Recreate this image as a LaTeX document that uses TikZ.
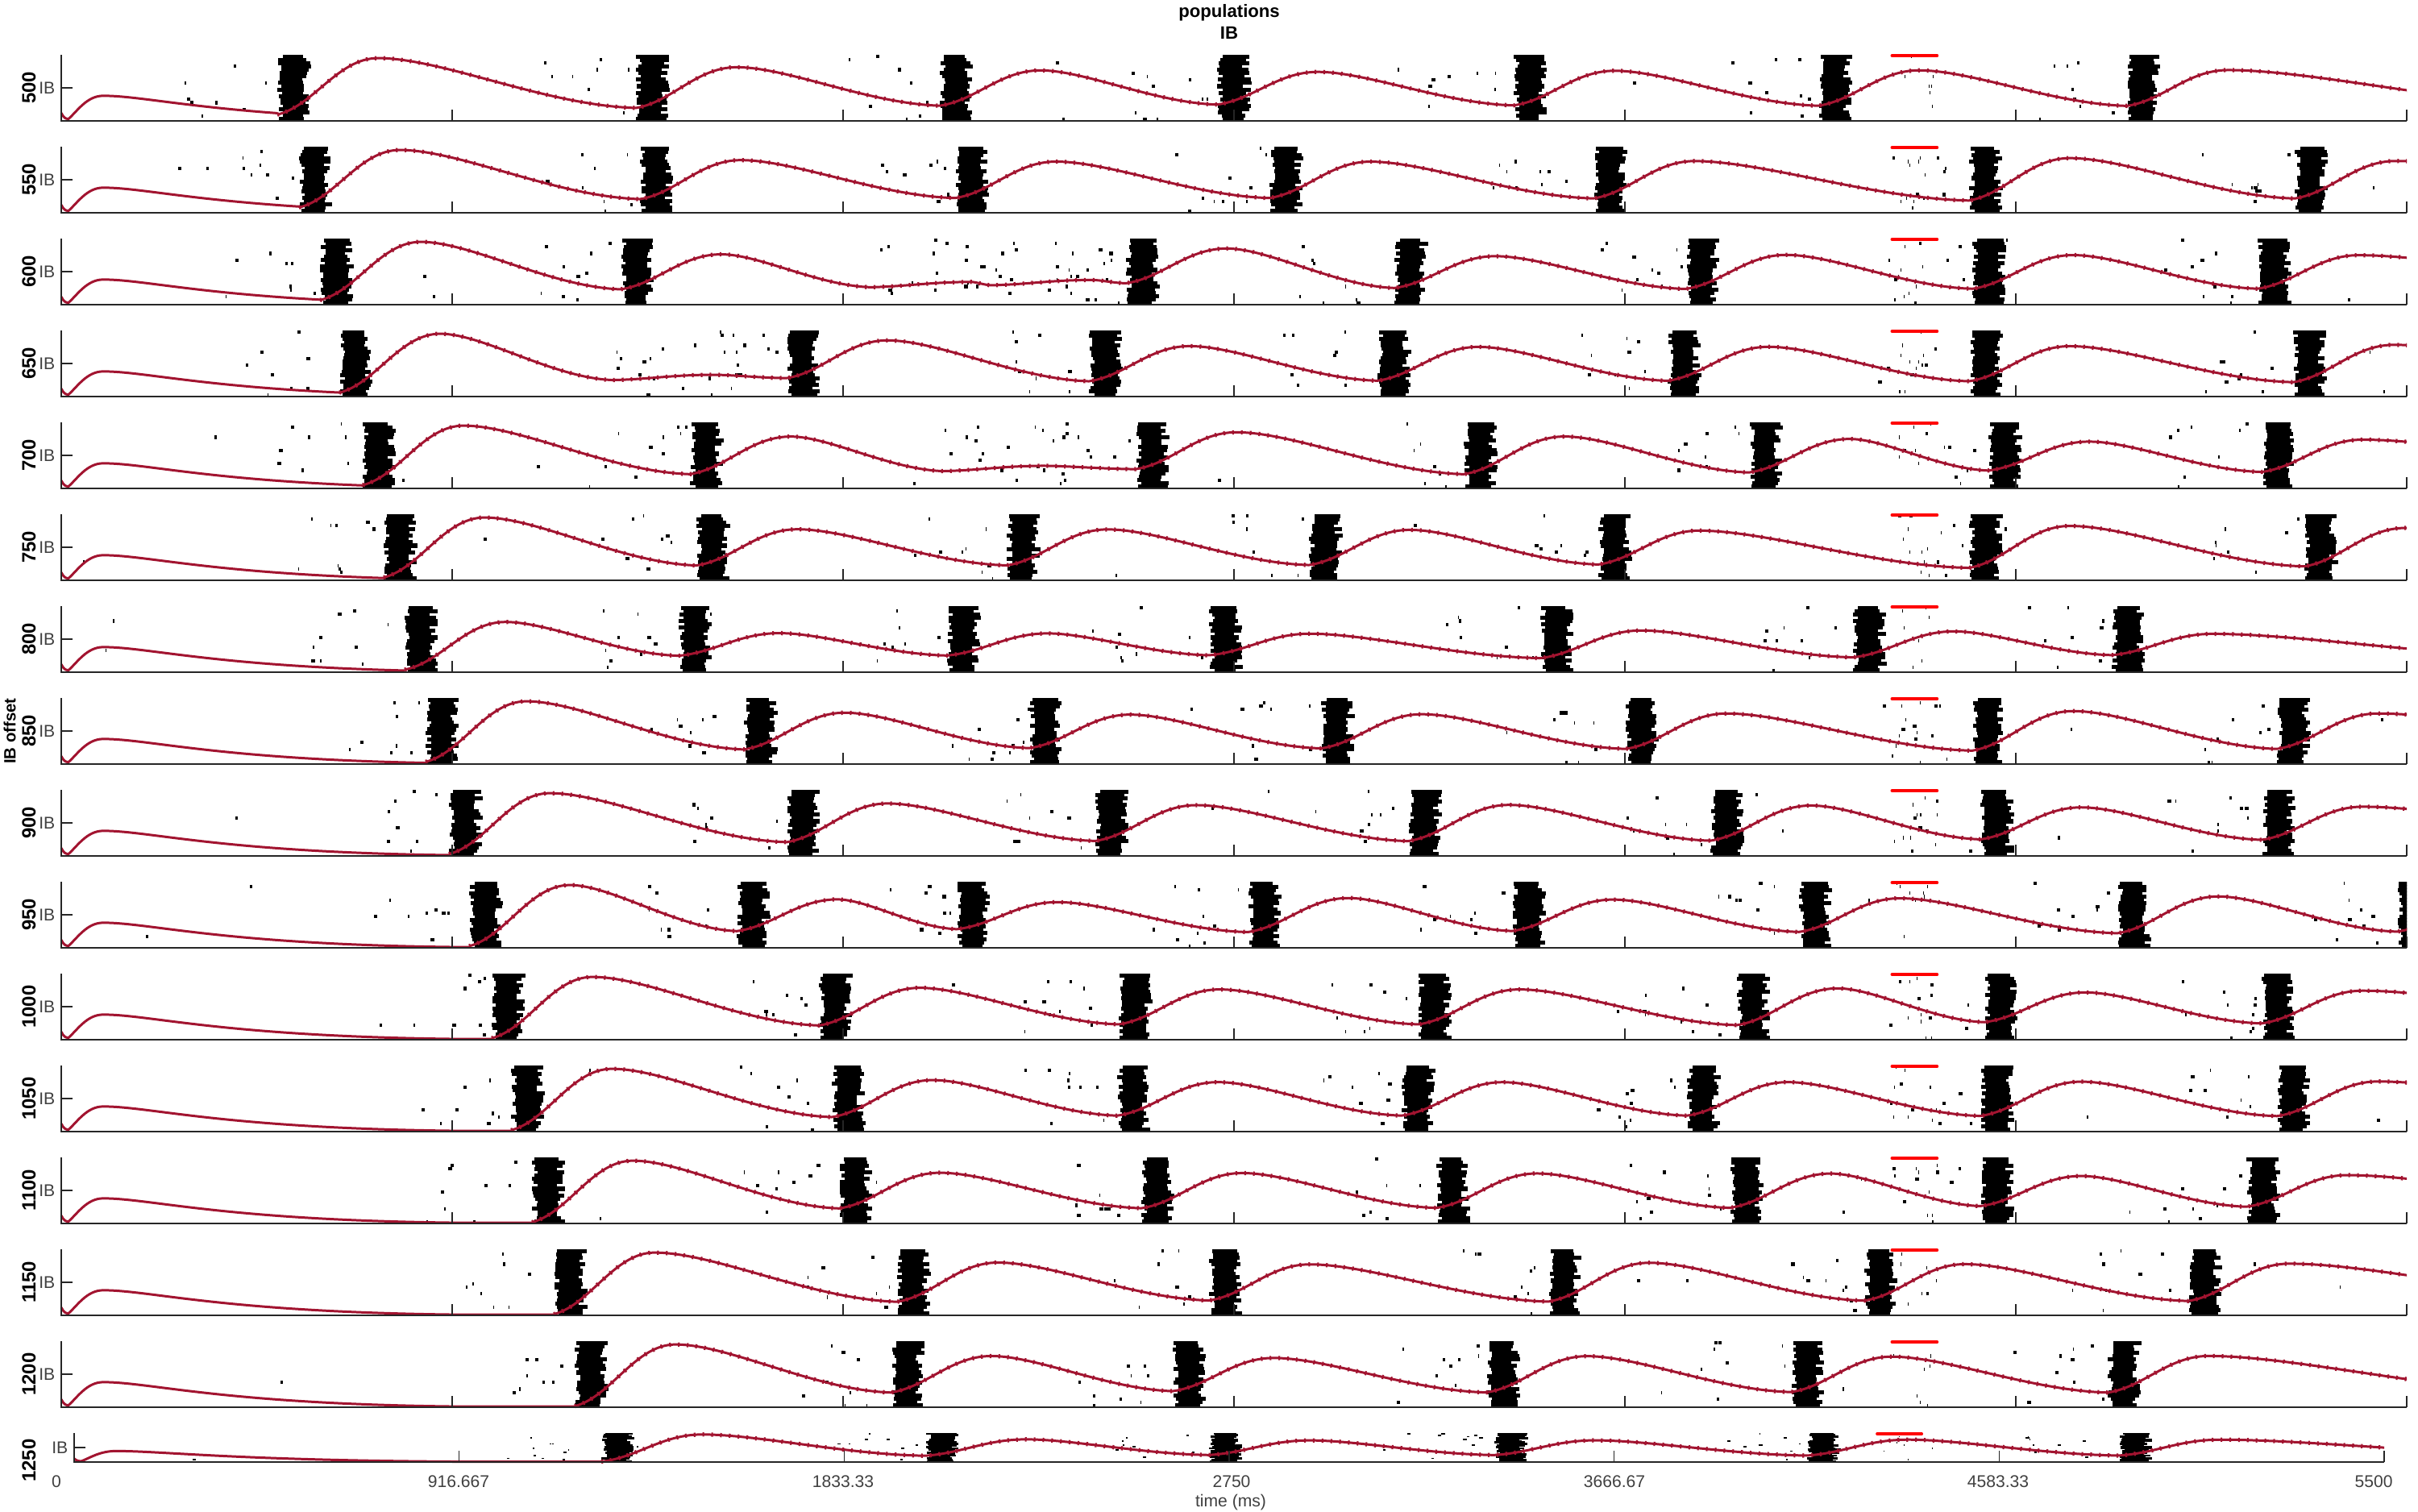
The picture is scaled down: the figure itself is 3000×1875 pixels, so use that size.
\documentclass[tikz,border=0pt]{standalone}
\usepackage{fontspec}
\setmainfont{Liberation Sans}
\usetikzlibrary{calc}

\definecolor{lfpred}{RGB}{162,20,48}
\definecolor{barred}{RGB}{255,0,0}
\definecolor{axisgray}{RGB}{38,38,38}
\definecolor{ticktext}{RGB}{64,64,64}

\tikzset{
  axisline/.style={draw=axisgray, line width=0.45pt},
  lfp/.style={draw=lfpred, line width=0.85pt},
  lfpmarks/.style={draw=lfpred, line width=1.5pt, dash pattern=on 0.6pt off 2.5pt},
  spike/.style={fill=black},
  stimbar/.style={draw=barred, line width=1pt, line cap=round},
  offsetlabel/.style={font=\bfseries\fontsize{6.8}{8}\selectfont, rotate=90, inner sep=0pt},
  poplabel/.style={font=\fontsize{6}{7}\selectfont, text=ticktext, anchor=east, inner sep=0pt},
  timelabel/.style={font=\fontsize{6}{7}\selectfont, text=ticktext, inner sep=0pt},
  titlelabel/.style={font=\bfseries\fontsize{6.3}{7.5}\selectfont, inner sep=0pt},
}

\begin{document}
\begin{tikzpicture}[x=0.01cm, y=-0.01cm]
\useasboundingbox (0,0) rectangle (3000,1875);
\pgfmathsetseed{7}

\node[titlelabel] (title) at (1525,16) {populations};
\node[titlelabel] (titlepop) at (1525,41) {IB};

% one panel per IB offset (negative onset = loose cluster of spikes)
\foreach \lab/\ybot/\hgt/\xleft/\xright/\gain/\onsets in {
  500/150/82/76/2986/1/{344,789,1166,1510,1878,2256,2639},
  550/264/82/76/2986/1/{371,794,1185,1575,1977,2443,2847},
  600/378/82/76/2986/1/{397,770,-1080,-1230,1397,1730,2091,2447,2801},
  650/492/82/76/2986/1/{421,-760,976,1351,1709,2069,2443,2845},
  700/606/82/76/2986/1/{450,856,-1170,1409,1816,2170,2467,2806},
  750/720/82/76/2986/1/{476,864,1249,1624,1983,2443,2859},
  800/834/82/76/2986/0.8/{502,842,1175,1500,1911,2299,2620},
  850/948/82/76/2986/1/{528,923,1277,1639,2017,2447,2825},
  900/1062/82/76/2986/1/{557,976,1359,1747,2122,2457,2806},
  950/1176/82/76/2986/1/{582,914,1187,1548,1876,2232,2627,2974},
  1000/1290/82/76/2986/1/{610,1016,1388,1760,2155,2462,2806},
  1050/1404/82/76/2986/1/{634,1032,1386,1739,2093,2457,2825},
  1100/1518/82/76/2986/1/{660,1041,1416,1782,2146,2457,2787},
  1150/1632/82/76/2986/1/{687,1113,1500,1921,2313,2715},
  1200/1746/82/76/2986/1/{713,1105,1455,1844,2222,2615},
  1250/1814/36/92/2958/1/{746,1148,1500,1854,2242,2629}}
{
  \pgfmathsetmacro\ytop{\ybot-\hgt}
  \pgfmathsetmacro\ymid{\ybot-\hgt/2}
  \pgfmathsetmacro\ylab{\ymid+max(0,60-\hgt)*0.67}
  \pgfmathsetmacro\rowh{\hgt/20}
  \pgfmathsetmacro\tstep{(\xright-\xleft)/6}
  \pgfmathsetmacro\barl{\xleft+0.7805*(\xright-\xleft)}
  \pgfmathsetmacro\barr{\xleft+0.7998*(\xright-\xleft)}

  % raster
  \begin{scope}
    \clip (\xleft,{\ytop-2}) rectangle (\xright,\ybot);
    \foreach \bon in \onsets {
      \pgfmathsetmacro\bpos{abs(\bon)}
      \ifnum\bon>0\relax
        \fill[spike] ({\bpos+7},\ytop) rectangle ({\bpos+31},\ybot);
        \foreach \row in {0,...,19} {
          \pgfmathsetmacro\ry{\ytop+\row*\rowh-0.5}
          \pgfmathsetmacro\xa{\bpos+8*rnd}
          \pgfmathsetmacro\xb{\bpos+30+12*rnd}
          \fill[spike] (\xa,\ry) rectangle (\xb,\ry+\rowh+1);
        }
        \foreach \n in {1,...,8} {
          \pgfmathsetmacro\sx{\bpos-8-110*rnd}
          \pgfmathsetmacro\sy{\ytop+int(19.99*rnd)*\rowh}
          \pgfmathsetmacro\sw{\sx+1+4*rnd}
          \fill[spike] (\sx,\sy) rectangle (\sw,\sy+\rowh);
        }
      \else
        \foreach \n in {1,...,18} {
          \pgfmathsetmacro\sx{\bpos+160*rnd}
          \pgfmathsetmacro\sy{\ytop+int(19.99*rnd)*\rowh}
          \pgfmathsetmacro\sw{\sx+1+4*rnd}
          \fill[spike] (\sx,\sy) rectangle (\sw,\sy+\rowh);
        }
      \fi
    }
    \foreach \n in {1,...,8} {
      \pgfmathsetmacro\sx{\xleft+10+(\xright-\xleft-20)*rnd}
      \pgfmathsetmacro\sy{\ytop+int(19.99*rnd)*\rowh}
      \pgfmathsetmacro\sw{\sx+1+3*rnd}
      \fill[spike] (\sx,\sy) rectangle (\sw,\sy+\rowh);
    }
    \foreach \n in {1,...,7} {
      \pgfmathsetmacro\sx{\barl+(\barr-\barl)*rnd}
      \pgfmathsetmacro\sy{\ytop+int(19.99*rnd)*\rowh}
      \fill[spike] (\sx,\sy) rectangle (\sx+1,\sy+\rowh);
    }
  \end{scope}

  % population trace
  \xdef\nitem{0}
  \foreach \bon in \onsets {
    \pgfmathsetmacro\bpos{abs(\bon)}
    \ifnum\nitem=0\relax
      \begin{scope}
        \clip ({\xleft-5},{\ytop-5}) rectangle (\bpos,{\ybot+5});
        \draw[lfp] (\xleft,{\ybot-0.12*\hgt}) .. controls ({\xleft+3},{\ybot-0.05*\hgt}) and ({\xleft+5},{\ybot-0.03*\hgt}) .. ({\xleft+9},{\ybot-0.03*\hgt})
          .. controls ({\xleft+20},{\ybot-0.15*\hgt}) and ({\xleft+32},{\ybot-0.38*\hgt}) .. ({\xleft+52},{\ybot-0.38*\hgt})
          .. controls ({\xleft+112},{\ybot-0.38*\hgt}) and ({\xleft+202},{\ybot-0.04*\hgt}) .. ({\xleft+502},{\ybot-0.01*\hgt})
          -- (3000,{\ybot-0.01*\hgt});
      \end{scope}
      \pgfmathsetmacro\rtr{0.01+0.4*exp(-max(\bpos-\xleft-52,0)/140)}
      \pgfmathsetmacro\rpk{0.95*\gain}
      \xdef\lfppath{(\bpos,{\ybot-\rtr*\hgt})}
    \else
      \pgfmathsetmacro\rtr{min(\lastpk-0.05,max(0.05,0.42-0.0005*(\bpos-\lastb)))}
      \pgfmathsetmacro\dd{\bpos-\lastx}
      \ifnum\bon<0\relax
        \pgfmathsetmacro\rpk{\rtr+0.08}
      \else
        \pgfmathsetmacro\rpk{\gain*min(0.85,0.5+0.0007*(\bpos-\lastfull))}
      \fi
      \xdef\lfppath{\lfppath .. controls ({\lastx+0.25*\dd},{\ybot-\lastpk*\hgt}) and ({\bpos-0.35*\dd},{\ybot-(\rtr+0.05*(\lastpk-\rtr))*\hgt}) .. (\bpos,{\ybot-\rtr*\hgt})}
    \fi
    \xdef\lfppath{\lfppath .. controls ({\bpos+45},{\ybot-(\rtr+0.15*(\rpk-\rtr))*\hgt}) and ({\bpos+75},{\ybot-\rpk*\hgt}) .. ({\bpos+125},{\ybot-\rpk*\hgt})}
    \pgfmathsetmacro\pkx{\bpos+125}
    \xdef\lastx{\pkx}
    \xdef\lastpk{\rpk}
    \xdef\lastb{\bpos}
    \ifnum\bon>0\relax \xdef\lastfull{\bpos}\fi
    \xdef\nitem{1}
  }
  \xdef\lfppath{\lfppath .. controls ({\lastx+110},{\ybot-\lastpk*\hgt}) and ({\lastx+290},{\ybot-0.22*\hgt}) .. ({\lastx+450},{\ybot-0.2*\hgt})}
  \begin{scope}
    \clip (\xleft,{\ytop-10}) rectangle (\xright,{\ybot+5});
    \edef\drawtrace{\noexpand\draw[lfp] \lfppath; \noexpand\draw[lfpmarks] \lfppath;}
    \drawtrace
  \end{scope}

  % axes
  \draw[axisline] (\xleft,\ytop) -- (\xleft,\ybot) -- (\xright,\ybot);
  \foreach \n in {1,...,6}
    \draw[axisline] ({\xleft+\n*\tstep},\ybot) -- ++(0,-14);
  \draw[axisline] (\xleft,\ymid) -- ++(14,0);
  \node[poplabel] (ib\lab) at ({\xleft-7},\ymid) {IB};
  \node[offsetlabel] (off\lab) at (36,\ylab) {\lab};
  \draw[stimbar] (\barl,{\ytop+1}) -- (\barr,{\ytop+1});
}

\node[offsetlabel, font=\bfseries\fontsize{5.8}{7}\selectfont] (ylab) at (12,907) {IB offset};

\node[timelabel] (tick0) at (70,1838) {0};
\node[timelabel] (tick1) at (569,1838) {916.667};
\node[timelabel] (tick2) at (1046,1838) {1833.33};
\node[timelabel] (tick3) at (1528,1838) {2750};
\node[timelabel] (tick4) at (2003,1838) {3666.67};
\node[timelabel] (tick5) at (2479,1838) {4583.33};
\node[timelabel] (tick6) at (2945,1838) {5500};
\node[timelabel] (xlab) at (1527,1864) {time (ms)};
\end{tikzpicture}
\end{document}
